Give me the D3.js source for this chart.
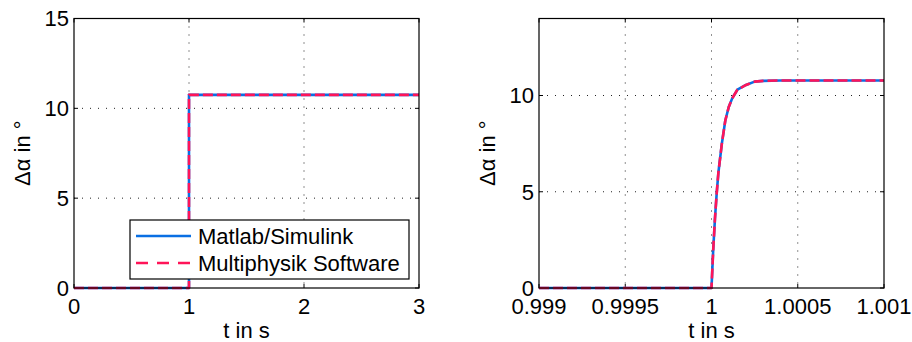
<!DOCTYPE html>
<html>
<head>
<meta charset="utf-8">
<script src="https://cdn.jsdelivr.net/npm/d3@7"></script>
<style>
  html, body { margin: 0; padding: 0; background: #fff; }
  svg { display: block; font-family: "Liberation Sans", Arial, sans-serif; }
</style>
</head>
<body>
<svg id="chart" width="912" height="342"></svg>
<script>
// full run: step at t = 1 s
const fullTime  = [0, 1, 1, 3];
const fullSimulink = [0, 0, 10.75, 10.75];
const fullMultiphysik = [0, 0, 10.75, 10.75];
const fullXTicks = [0, 1, 2, 3];
const fullYTicks = [0, 5, 10, 15];

// zoom round t = 1 s
const zoomTime = [0.999, 1.0, 1.00001, 1.00002, 1.00003, 1.00004, 1.00006, 1.00008,
                  1.0001, 1.00012, 1.00015, 1.0002, 1.00025, 1.0003, 1.0004, 1.001];
const zoomSimulink = [0, 0, 2.0, 3.6, 4.9, 6.0, 7.5, 8.7, 9.4, 9.85, 10.3, 10.55, 10.72, 10.76, 10.78, 10.78];
const zoomMultiphysik = [0, 0, 2.0, 3.6, 4.9, 6.0, 7.5, 8.7, 9.4, 9.85, 10.3, 10.55, 10.72, 10.76, 10.78, 10.78];
const zoomXTicks = [0.999, 0.9995, 1, 1.0005, 1.001];
const zoomXLabels = ["0.999", "0.9995", "1", "1.0005", "1.001"];
const zoomYTicks = [0, 5, 10];

const seriesNames = ["Matlab/Simulink", "Multiphysik Software"];
const blue = "#0a6fe3";
const red = "#ff1458";
const fontSize = 22;

const svg = d3.select("#chart");

function drawPanel(opt) {
  const x = d3.scaleLinear().domain(opt.xDomain).range([opt.left, opt.right]);
  const y = d3.scaleLinear().domain(opt.yDomain).range([opt.bottom, opt.top]);
  const g = svg.append("g");

  // dotted grid
  opt.xTicks.forEach(t => {
    if (t === opt.xDomain[0] || t === opt.xDomain[1]) return;
    g.append("line")
      .attr("x1", x(t)).attr("x2", x(t))
      .attr("y1", opt.top).attr("y2", opt.bottom)
      .attr("stroke", "#222").attr("stroke-width", 1)
      .attr("stroke-dasharray", "1,7");
  });
  opt.yTicks.forEach(t => {
    if (t === opt.yDomain[0] || t === opt.yDomain[1]) return;
    g.append("line")
      .attr("x1", opt.left).attr("x2", opt.right)
      .attr("y1", y(t)).attr("y2", y(t))
      .attr("stroke", "#222").attr("stroke-width", 1)
      .attr("stroke-dasharray", "1,7");
  });

  // inside ticks, all four sides
  const tl = 4;
  opt.xTicks.forEach(t => {
    g.append("line").attr("x1", x(t)).attr("x2", x(t))
      .attr("y1", opt.bottom).attr("y2", opt.bottom - tl)
      .attr("stroke", "#000");
    g.append("line").attr("x1", x(t)).attr("x2", x(t))
      .attr("y1", opt.top).attr("y2", opt.top + tl)
      .attr("stroke", "#000");
  });
  opt.yTicks.forEach(t => {
    g.append("line").attr("x1", opt.left).attr("x2", opt.left + tl)
      .attr("y1", y(t)).attr("y2", y(t)).attr("stroke", "#000");
    g.append("line").attr("x1", opt.right).attr("x2", opt.right - tl)
      .attr("y1", y(t)).attr("y2", y(t)).attr("stroke", "#000");
  });

  // curves
  const line = d3.line().x(d => x(d[0])).y(d => y(d[1]));
  const simPts = opt.time.map((t, i) => [t, opt.sim[i]]);
  const mpPts = opt.time.map((t, i) => [t, opt.mp[i]]);
  g.append("path").datum(simPts).attr("d", line)
    .attr("fill", "none").attr("stroke", blue).attr("stroke-width", 2.6)
    .attr("stroke-linejoin", "round");
  g.append("path").datum(mpPts).attr("d", line)
    .attr("fill", "none").attr("stroke", red).attr("stroke-width", 2.6)
    .attr("stroke-dasharray", "10,4").attr("stroke-linejoin", "round");

  // box
  g.append("rect")
    .attr("x", opt.left).attr("y", opt.top)
    .attr("width", opt.right - opt.left).attr("height", opt.bottom - opt.top)
    .attr("fill", "none").attr("stroke", "#000").attr("stroke-width", 1.2);

  // tick labels
  opt.xTicks.forEach((t, i) => {
    g.append("text").attr("x", x(t)).attr("y", opt.bottom + 26)
      .attr("text-anchor", "middle").attr("font-size", fontSize)
      .text(opt.xLabels ? opt.xLabels[i] : String(t));
  });
  opt.yTicks.forEach(t => {
    g.append("text").attr("x", opt.left - 5).attr("y", y(t))
      .attr("dy", "0.36em")
      .attr("text-anchor", "end").attr("font-size", fontSize)
      .text(String(t));
  });

  // axis titles
  g.append("text").attr("x", (opt.left + opt.right) / 2).attr("y", opt.bottom + 50)
    .attr("text-anchor", "middle").attr("font-size", fontSize)
    .text("t in s");
  g.append("text")
    .attr("transform", `translate(${opt.yTitleX},${(opt.top + opt.bottom) / 2}) rotate(-90)`)
    .attr("text-anchor", "middle").attr("font-size", fontSize)
    .text("Δα in °");

  return { x, y, g };
}

const full = drawPanel({
  left: 74, right: 419, top: 18.5, bottom: 288,
  xDomain: [0, 3], yDomain: [0, 15],
  xTicks: fullXTicks, yTicks: fullYTicks,
  time: fullTime, sim: fullSimulink, mp: fullMultiphysik,
  yTitleX: 30
});

drawPanel({
  left: 539, right: 884, top: 18.5, bottom: 288,
  xDomain: [0.999, 1.001], yDomain: [0, 14],
  xTicks: zoomXTicks, xLabels: zoomXLabels, yTicks: zoomYTicks,
  time: zoomTime, sim: zoomSimulink, mp: zoomMultiphysik,
  yTitleX: 495
});

// legend
const lg = full.g.append("g");
lg.append("rect").attr("x", 130).attr("y", 220).attr("width", 279).attr("height", 59)
  .attr("fill", "#fff").attr("stroke", "#000").attr("stroke-width", 1.2);
[blue, red].forEach((c, i) => {
  const ly = 236 + i * 27;
  lg.append("line").attr("x1", 136).attr("x2", 191).attr("y1", ly).attr("y2", ly)
    .attr("stroke", c).attr("stroke-width", 2.6)
    .attr("stroke-dasharray", i === 1 ? "12,9" : null);
  lg.append("text").attr("x", 198).attr("y", ly).attr("dy", "0.36em")
    .attr("font-size", fontSize).text(seriesNames[i]);
});
</script>
</body>
</html>
